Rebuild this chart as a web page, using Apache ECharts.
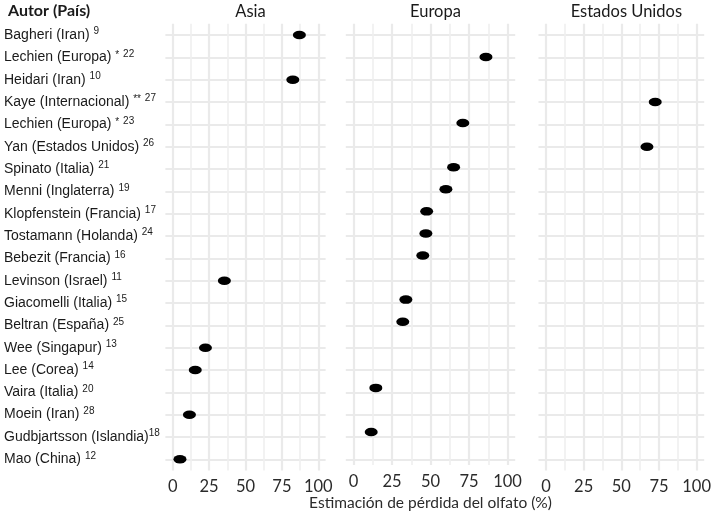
<!DOCTYPE html>
<html>
<head>
<meta charset="utf-8">
<script src="https://cdn.jsdelivr.net/npm/echarts@6/dist/echarts.min.js"></script>
<style>html,body{margin:0;padding:0;background:#fff}#c{width:714px;height:516px}</style>
</head>
<body>
<div id="c"></div>
<script>
// ---- data ----
const authors = ['Bagheri (Iran)','Lechien (Europa)','Heidari (Iran)','Kaye (Internacional)','Lechien (Europa)','Yan (Estados Unidos)','Spinato (Italia)','Menni (Inglaterra)','Klopfenstein (Francia)','Tostamann (Holanda)','Bebezit (Francia)','Levinson (Israel)','Giacomelli (Italia)','Beltran (España)','Wee (Singapur)','Lee (Corea)','Vaira (Italia)','Moein (Iran)','Gudbjartsson (Islandia)','Mao (China)'];
const marks = ['','*','','**','*','','','','','','','','','','','','','','',''];
const refs = ['9','22','10','27','23','26','21','19','17','24','16','11','15','25','13','14','20','28','18','12'];
const regions = ['Asia','Europa','Estados Unidos'];
const asia   = [87,null,82.5,null,null,null,null,null,null,null,null,35.5,null,null,22.5,15.5,null,11.5,null,5];
const europa = [null,86,null,null,71,null,65,60,47.5,47,45,null,34,32,null,null,14.5,null,11.5,null];
const usa    = [null,null,null,72.5,null,67,null,null,null,null,null,null,null,null,null,null,null,null,null,null];
const xTicks = [0,25,50,75,100];
const regionValues = [asia, europa, usa];

// ---- layout ----
const panels = [{left:165.4,width:160.2},{left:345.8,width:169.4},{left:538.5,width:165.7}];
const T = 21.6, n = authors.length, s = (459.3-35)/(n-1);
const cats = authors.map((a,i)=>a+'|'+marks[i]+'|'+refs[i]+'|'+i);

const grids=[], xAxes=[], yAxes=[], series=[], titles=[];
const gridCol = '#eaeaea';
panels.forEach((p,k)=>{
  const innerLeft = p.left + p.width*5/110, innerW = p.width*100/110;
  grids.push({left:innerLeft, width:innerW, top:T+0.1*s, height:n*s, containLabel:false});
  grids.push({left:p.left, width:p.width, top:T+0.6*s, height:(n-1)*s, containLabel:false});
  const ga = 2*k, gb = 2*k+1;
  xAxes.push({
    gridIndex:ga, type:'value', min:xTicks[0], max:xTicks[xTicks.length-1], interval:25,
    axisLine:{show:false}, axisTick:{show:false},
    axisLabel:{show:true, margin:8, color:'#2b2b2b', fontSize:16.5, fontFamily:'Lato'},
    splitLine:{show:true, lineStyle:{color:gridCol, width:2.2}},
    minorTick:{show:false, splitNumber:2},
    minorSplitLine:{show:true, lineStyle:{color:'#efefef', width:1.6}},
    name: k===1 ? 'Estimación de pérdida del olfato (%)' : '',
    nameLocation:'middle', nameGap:24,
    nameTextStyle:{fontSize:15.5, fontFamily:'Lato', color:'#2b2b2b'}
  });
  yAxes.push({
    gridIndex:ga, type:'category', data:cats, inverse:true,
    axisLine:{show:false}, axisTick:{show:false}, splitLine:{show:false},
    axisLabel:{
      show:k===0, align:'left', margin:innerLeft-4, interval:0,
      formatter:(v)=>{const q=v.split('|'); let out='{n|'+q[0]+'}'; if(q[1]) out+='{n| }{m|'+q[1]+'}'; out+= (q[3]==='18'?'':'{n| }')+'{s|'+q[2]+'}'; return out;},
      rich:{
        n:{fontSize:14, fontFamily:'Liberation Sans', color:'#1a1a1a'},
        m:{fontSize:10, fontFamily:'Liberation Sans', color:'#1a1a1a', padding:[0,0,5,0]},
        s:{fontSize:10, fontFamily:'Liberation Sans', color:'#1a1a1a', padding:[0,0,7,0]}
      }
    }
  });
  xAxes.push({gridIndex:gb, type:'value', min:0, max:1, show:false});
  yAxes.push({
    gridIndex:gb, type:'value', min:0, max:n-1, interval:1, inverse:true,
    axisLine:{show:false}, axisTick:{show:false}, axisLabel:{show:false},
    splitLine:{show:true, lineStyle:{color:gridCol, width:1.8}}
  });
  const vals = regionValues[k];
  series.push({
    type:'scatter', xAxisIndex:2*k, yAxisIndex:2*k,
    symbol:'circle', symbolSize:[13,8.5],
    itemStyle:{color:'#000', opacity:1},
    emphasis:{disabled:true},
    data: vals.map((v,i)=> v==null?null:[v,i]).filter(d=>d),
    z:5
  });
  titles.push({
    text:regions[k], left:p.left+p.width/2, top:-2, textAlign:'center',
    textStyle:{fontSize:16.5, fontWeight:'normal', fontFamily:'Lato', color:'#1a1a1a'}
  });
});
titles.push({text:'Autor (País)', left:3, top:-2, textStyle:{fontSize:16, fontWeight:'bold', fontFamily:'Lato', color:'#1a1a1a'}});

const chart = echarts.init(document.getElementById('c'), null, {renderer:'canvas'});
chart.setOption({
  animation:false,
  backgroundColor:'#fff',
  title:titles,
  grid:grids, xAxis:xAxes, yAxis:yAxes, series:series
});
</script>
</body>
</html>
